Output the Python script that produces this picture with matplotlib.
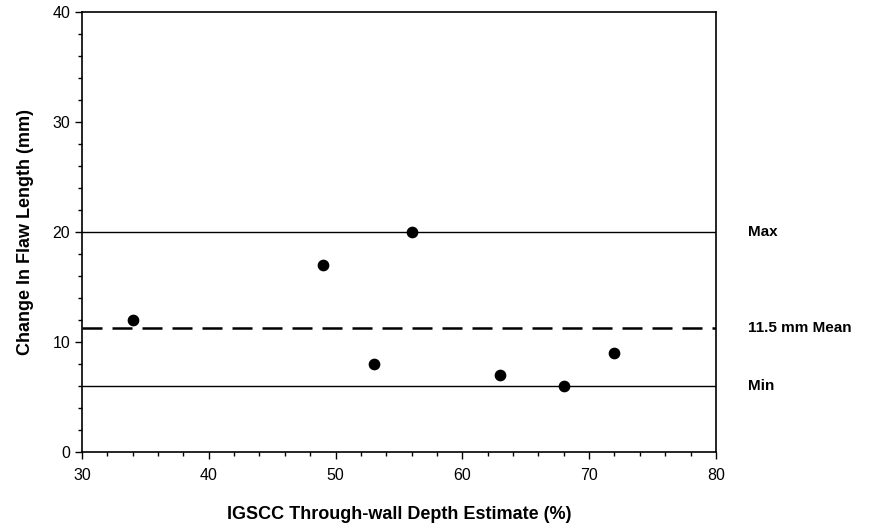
import matplotlib
matplotlib.use("Agg")
import matplotlib.pyplot as plt
from matplotlib.ticker import MultipleLocator

plt.rcParams['font.family'] = ['Liberation Sans', 'DejaVu Sans']

depth_pct = [34, 49, 53, 56, 63, 68, 72]
length_change = [12, 17, 8, 20, 7, 6, 9]
max_val = 20
min_val = 6
mean_val = sum(length_change) / len(length_change)
mean_label = "11.5 mm Mean"

fig = plt.figure(figsize=(8.72, 5.29), dpi=100)
ax = fig.add_axes([0.094, 0.146, 0.727, 0.831])

ax.axhline(max_val, color='black', lw=1)
ax.axhline(min_val, color='black', lw=1)
ax.axhline(mean_val, color='black', lw=1.8, dashes=(8, 4))
ax.scatter(depth_pct, length_change, s=55, color='black', zorder=3)

ax.set_xlim(30, 80)
ax.set_ylim(0, 40)
ax.xaxis.set_major_locator(MultipleLocator(10))
ax.xaxis.set_minor_locator(MultipleLocator(2))
ax.yaxis.set_major_locator(MultipleLocator(10))
ax.yaxis.set_minor_locator(MultipleLocator(2))
ax.tick_params(which='both', direction='out', labelsize=11.5, width=1)
ax.tick_params(which='major', length=5)
ax.tick_params(which='minor', length=3)
ax.tick_params(axis='x', which='major', pad=7)
for s in ax.spines.values():
    s.set_linewidth(1.2)

ax.set_xlabel("IGSCC Through-wall Depth Estimate (%)", fontsize=13, fontweight='bold', labelpad=16)
ax.set_ylabel("Change In Flaw Length (mm)", fontsize=13, fontweight='bold', labelpad=13)

tr = ax.get_yaxis_transform()
ax.text(1.05, max_val, "Max", transform=tr, va='center', fontsize=11, fontweight='bold')
ax.text(1.05, mean_val, mean_label, transform=tr, va='center', fontsize=11, fontweight='bold')
ax.text(1.05, min_val, "Min", transform=tr, va='center', fontsize=11, fontweight='bold')

fig.savefig("out.png", dpi=100)
